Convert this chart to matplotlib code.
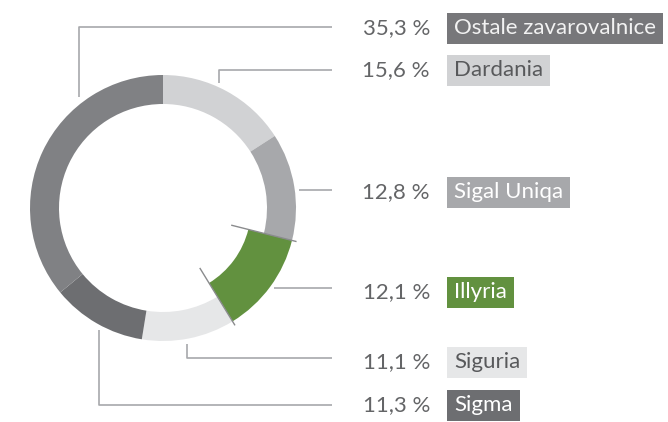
import numpy as np
import matplotlib
matplotlib.use('Agg')
import matplotlib.pyplot as plt
from matplotlib.patches import Rectangle

# market shares, in drawing order (clockwise from 12 o'clock)
names = ['Dardania', 'Sigal Uniqa', 'Illyria', 'Siguria', 'Sigma', 'Ostale zavarovalnice']
shares = [15.6, 12.8, 12.1, 11.1, 11.3, 35.3]
slice_colors = ['#d1d2d4', '#a7a8ab', '#62913f', '#e6e7e8', '#6d6e71', '#808184']
text_colors = ['#58595b', '#ffffff', '#ffffff', '#58595b', '#ffffff', '#f2f2f2']
highlight = 'Illyria'

# label layout in pixel coords (y from top): row y, leader line path
label_rows = {
    'Ostale zavarovalnice': (28, [(79, 97), (79, 27), (332, 27)]),
    'Dardania': (70, [(219, 83), (219, 70), (332, 70)]),
    'Sigal Uniqa': (192, [(299, 190), (332, 190)]),
    'Illyria': (292, [(274, 288), (332, 288)]),
    'Siguria': (362, [(187, 344), (187, 358), (332, 358)]),
    'Sigma': (405, [(99, 330), (99, 405), (332, 405)]),
}

W, H = 668, 422
fig = plt.figure(figsize=(W / 100, H / 100), dpi=100)
ax = fig.add_axes([0, 0, 1, 1])

cx, cy = 163, H - 208
R = 133
wedges, _ = ax.pie(shares, colors=slice_colors, startangle=90, counterclock=False,
                   radius=R, center=(cx, cy), wedgeprops=dict(width=29, linewidth=0))
ax.set_xlim(0, W)
ax.set_ylim(0, H)
ax.set_aspect('equal')
ax.axis('off')

# highlighted slice is thicker, with tick marks at its edges
hi = wedges[names.index(highlight)]
hi.set_width(45)
for ang in (hi.theta1, hi.theta2):
    a = np.deg2rad(ang)
    ax.plot([cx + 71 * np.cos(a), cx + 137 * np.cos(a)],
            [cy + 71 * np.sin(a), cy + 137 * np.sin(a)], color='#8a8b8d', lw=1, zorder=5)

font = dict(family=['Lato', 'DejaVu Sans'], fontweight='normal')
renderer = fig.canvas.get_renderer()
for name, share, bc, tc in zip(names, shares, slice_colors, text_colors):
    ty, path = label_rows[name]
    xs = [p[0] for p in path]
    ys = [H - p[1] for p in path]
    ax.plot(xs, ys, color='#a7a8ab', lw=1.2, solid_capstyle='butt')
    pct = ('%.1f %%' % share).replace('.', ',')
    ax.text(430, H - ty, pct, ha='right', va='center', fontsize=16, color='#646567', **font)
    box = '#77777a' if name.startswith('Ostale') else bc
    t = ax.text(454, H - ty, name, ha='left', va='center', fontsize=16, color=tc, zorder=4, **font)
    bb = t.get_window_extent(renderer)
    ax.add_patch(Rectangle((447, H - ty - 15.5), bb.width + 14, 31, fc=box, ec='none', zorder=3))

fig.savefig('out.png', dpi=100)
